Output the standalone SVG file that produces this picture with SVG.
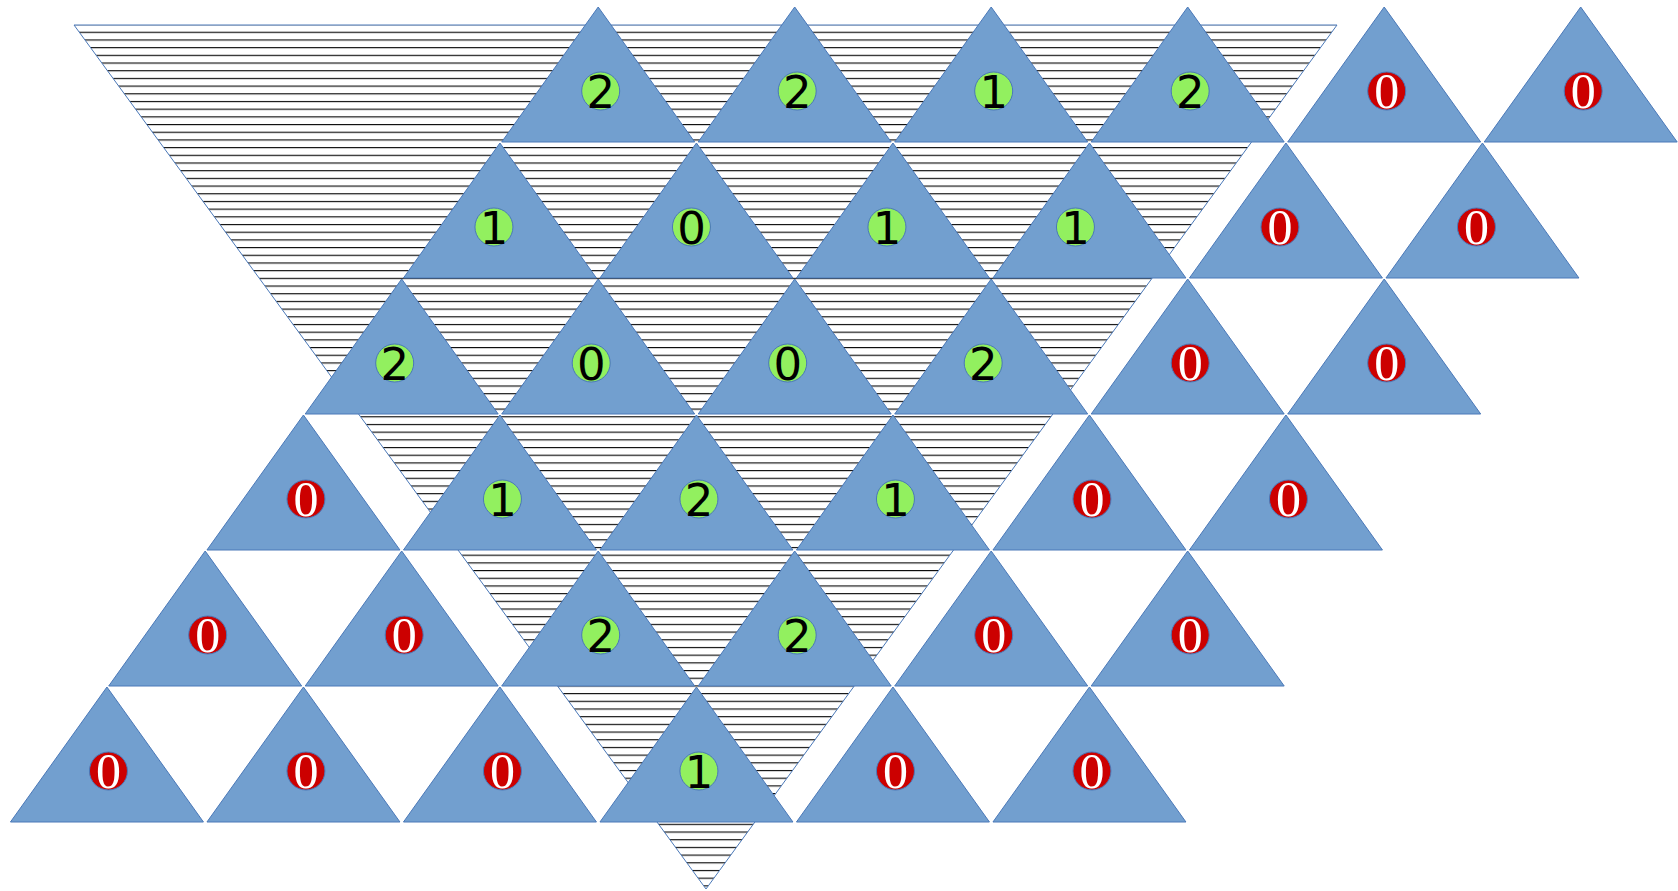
<svg xmlns="http://www.w3.org/2000/svg" xmlns:xlink="http://www.w3.org/1999/xlink" width="1678" height="891" viewBox="0 0 1678 891">
<style>
.tri{fill:#729fcf;stroke:#4a78b8;stroke-width:1}
.cg{fill:#92f05f;stroke:#4a78b8;stroke-width:1}
.cr{fill:#cc0000;stroke:#4a78b8;stroke-width:1}
.lg{font-family:"DejaVu Sans","Liberation Sans",sans-serif;font-size:45px;fill:#000;text-anchor:middle}
.lr{font-family:"Liberation Serif","DejaVu Serif",serif;font-size:50px;fill:#fff;text-anchor:middle}
</style>
<defs>
<pattern id="hatch" patternUnits="userSpaceOnUse" x="0" y="0" width="20" height="7.69">
<rect width="20" height="7.69" fill="#fff"/>
<line x1="0" y1="1.56" x2="20" y2="1.56" stroke="#000" stroke-width="1.1"/>
</pattern>
<path id="tri" d="M0,0 L96.5,135 L-96.5,135 Z"/>
</defs>
<rect width="1678" height="891" fill="#fff"/>
<g id="hatched">
<path d="M74,25 L1337,25 L706,889 Z" fill="url(#hatch)" stroke="#4a78b8" stroke-width="1"/>
</g>
<g id="r1c1" transform="translate(598.2,7)"><use xlink:href="#tri" class="tri"/><circle class="cg" cx="2.5" cy="84" r="19"/><text class="lg" x="2.5" y="100.5">2</text></g>
<g id="r1c2" transform="translate(794.7,7)"><use xlink:href="#tri" class="tri"/><circle class="cg" cx="2.5" cy="84" r="19"/><text class="lg" x="2.5" y="100.5">2</text></g>
<g id="r1c3" transform="translate(991.2,7)"><use xlink:href="#tri" class="tri"/><circle class="cg" cx="2.5" cy="84" r="19"/><text class="lg" x="2.5" y="100.5">1</text></g>
<g id="r1c4" transform="translate(1187.7,7)"><use xlink:href="#tri" class="tri"/><circle class="cg" cx="2.5" cy="84" r="19"/><text class="lg" x="2.5" y="100.5">2</text></g>
<g id="r1c5" transform="translate(1384.2,7)"><use xlink:href="#tri" class="tri"/><circle class="cr" cx="2.5" cy="84" r="19"/><text class="lr" x="2.5" y="101">0</text></g>
<g id="r1c6" transform="translate(1580.7,7)"><use xlink:href="#tri" class="tri"/><circle class="cr" cx="2.5" cy="84" r="19"/><text class="lr" x="2.5" y="101">0</text></g>

<g id="r2c1" transform="translate(499.95,143)"><use xlink:href="#tri" class="tri"/><circle class="cg" cx="-6" cy="84" r="19"/><text class="lg" x="-6" y="100.5">1</text></g>
<g id="r2c2" transform="translate(696.45,143)"><use xlink:href="#tri" class="tri"/><circle class="cg" cx="-5" cy="84" r="19"/><text class="lg" x="-5" y="100.5">0</text></g>
<g id="r2c3" transform="translate(892.95,143)"><use xlink:href="#tri" class="tri"/><circle class="cg" cx="-6" cy="84" r="19"/><text class="lg" x="-6" y="100.5">1</text></g>
<g id="r2c4" transform="translate(1089.45,143)"><use xlink:href="#tri" class="tri"/><circle class="cg" cx="-14" cy="84" r="19"/><text class="lg" x="-14" y="100.5">1</text></g>
<g id="r2c5" transform="translate(1285.95,143)"><use xlink:href="#tri" class="tri"/><circle class="cr" cx="-6" cy="84" r="19"/><text class="lr" x="-6" y="101">0</text></g>
<g id="r2c6" transform="translate(1482.45,143)"><use xlink:href="#tri" class="tri"/><circle class="cr" cx="-6" cy="84" r="19"/><text class="lr" x="-6" y="101">0</text></g>

<g id="r3c1" transform="translate(401.7,279)"><use xlink:href="#tri" class="tri"/><circle class="cg" cx="-7" cy="84" r="19"/><text class="lg" x="-7" y="100.5">2</text></g>
<g id="r3c2" transform="translate(598.2,279)"><use xlink:href="#tri" class="tri"/><circle class="cg" cx="-7" cy="84" r="19"/><text class="lg" x="-7" y="100.5">0</text></g>
<g id="r3c3" transform="translate(794.7,279)"><use xlink:href="#tri" class="tri"/><circle class="cg" cx="-7" cy="84" r="19"/><text class="lg" x="-7" y="100.5">0</text></g>
<g id="r3c4" transform="translate(991.2,279)"><use xlink:href="#tri" class="tri"/><circle class="cg" cx="-8" cy="84" r="19"/><text class="lg" x="-8" y="100.5">2</text></g>
<g id="r3c5" transform="translate(1187.7,279)"><use xlink:href="#tri" class="tri"/><circle class="cr" cx="2.5" cy="84" r="19"/><text class="lr" x="2.5" y="101">0</text></g>
<g id="r3c6" transform="translate(1384.2,279)"><use xlink:href="#tri" class="tri"/><circle class="cr" cx="2.5" cy="84" r="19"/><text class="lr" x="2.5" y="101">0</text></g>

<g id="r4c1" transform="translate(303.45,415)"><use xlink:href="#tri" class="tri"/><circle class="cr" cx="2.5" cy="84" r="19"/><text class="lr" x="2.5" y="101">0</text></g>
<g id="r4c2" transform="translate(499.95,415)"><use xlink:href="#tri" class="tri"/><circle class="cg" cx="2.5" cy="84" r="19"/><text class="lg" x="2.5" y="100.5">1</text></g>
<g id="r4c3" transform="translate(696.45,415)"><use xlink:href="#tri" class="tri"/><circle class="cg" cx="2.5" cy="84" r="19"/><text class="lg" x="2.5" y="100.5">2</text></g>
<g id="r4c4" transform="translate(892.95,415)"><use xlink:href="#tri" class="tri"/><circle class="cg" cx="2.5" cy="84" r="19"/><text class="lg" x="2.5" y="100.5">1</text></g>
<g id="r4c5" transform="translate(1089.45,415)"><use xlink:href="#tri" class="tri"/><circle class="cr" cx="2.5" cy="84" r="19"/><text class="lr" x="2.5" y="101">0</text></g>
<g id="r4c6" transform="translate(1285.95,415)"><use xlink:href="#tri" class="tri"/><circle class="cr" cx="2.5" cy="84" r="19"/><text class="lr" x="2.5" y="101">0</text></g>

<g id="r5c1" transform="translate(205.2,551)"><use xlink:href="#tri" class="tri"/><circle class="cr" cx="2.5" cy="84" r="19"/><text class="lr" x="2.5" y="101">0</text></g>
<g id="r5c2" transform="translate(401.7,551)"><use xlink:href="#tri" class="tri"/><circle class="cr" cx="2.5" cy="84" r="19"/><text class="lr" x="2.5" y="101">0</text></g>
<g id="r5c3" transform="translate(598.2,551)"><use xlink:href="#tri" class="tri"/><circle class="cg" cx="2.5" cy="84" r="19"/><text class="lg" x="2.5" y="100.5">2</text></g>
<g id="r5c4" transform="translate(794.7,551)"><use xlink:href="#tri" class="tri"/><circle class="cg" cx="2.5" cy="84" r="19"/><text class="lg" x="2.5" y="100.5">2</text></g>
<g id="r5c5" transform="translate(991.2,551)"><use xlink:href="#tri" class="tri"/><circle class="cr" cx="2.5" cy="84" r="19"/><text class="lr" x="2.5" y="101">0</text></g>
<g id="r5c6" transform="translate(1187.7,551)"><use xlink:href="#tri" class="tri"/><circle class="cr" cx="2.5" cy="84" r="19"/><text class="lr" x="2.5" y="101">0</text></g>

<g id="r6c1" transform="translate(106.95,687)"><use xlink:href="#tri" class="tri"/><circle class="cr" cx="1.5" cy="84" r="19"/><text class="lr" x="1.5" y="101">0</text></g>
<g id="r6c2" transform="translate(303.45,687)"><use xlink:href="#tri" class="tri"/><circle class="cr" cx="2.5" cy="84" r="19"/><text class="lr" x="2.5" y="101">0</text></g>
<g id="r6c3" transform="translate(499.95,687)"><use xlink:href="#tri" class="tri"/><circle class="cr" cx="2.5" cy="84" r="19"/><text class="lr" x="2.5" y="101">0</text></g>
<g id="r6c4" transform="translate(696.45,687)"><use xlink:href="#tri" class="tri"/><circle class="cg" cx="2.5" cy="84" r="19"/><text class="lg" x="2.5" y="100.5">1</text></g>
<g id="r6c5" transform="translate(892.95,687)"><use xlink:href="#tri" class="tri"/><circle class="cr" cx="2.5" cy="84" r="19"/><text class="lr" x="2.5" y="101">0</text></g>
<g id="r6c6" transform="translate(1089.45,687)"><use xlink:href="#tri" class="tri"/><circle class="cr" cx="2.5" cy="84" r="19"/><text class="lr" x="2.5" y="101">0</text></g>
</svg>
